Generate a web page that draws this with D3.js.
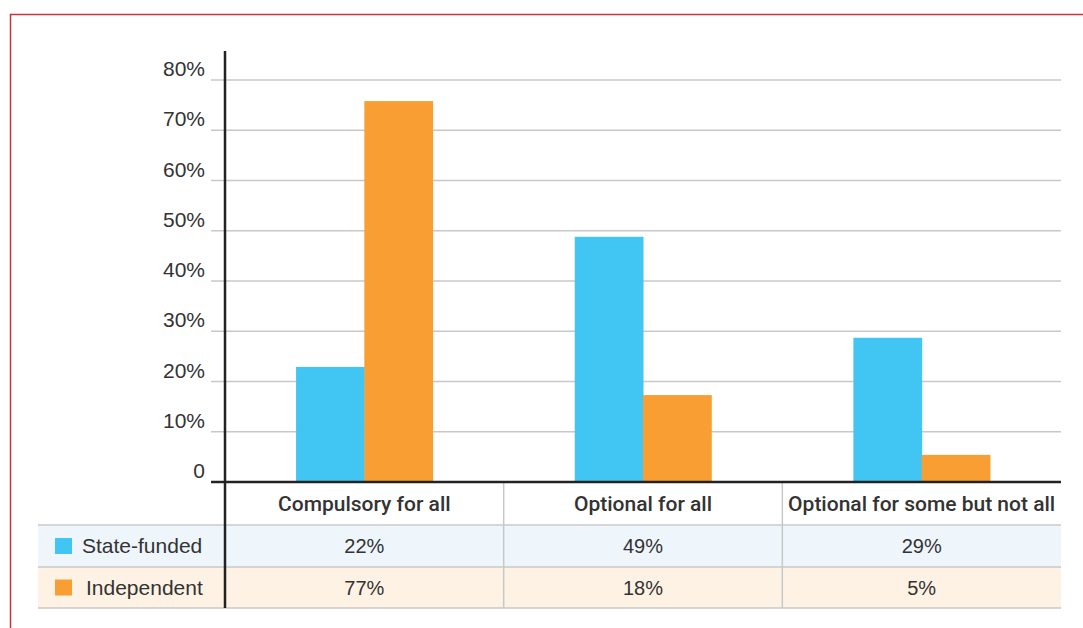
<!DOCTYPE html>
<html><head><meta charset="utf-8">
<script src="https://cdn.jsdelivr.net/npm/d3@7"></script>
<style>
body{margin:0;background:#fff;}
svg text{font-family:"Liberation Sans",Arial,sans-serif;fill:#333;}
</style></head>
<body><svg id="c" width="1083" height="628"></svg>
<script>
const categories = ["Compulsory for all", "Optional for all", "Optional for some but not all"];
const seriesNames = ["State-funded", "Independent"];
const stateFunded = [22.9, 48.8, 28.7];
const independent = [75.8, 17.3, 5.4];
const stateLabels = ["22%", "49%", "29%"];
const independentLabels = ["77%", "18%", "5%"];
const yTicks = [0, 10, 20, 30, 40, 50, 60, 70, 80];
const yTickLabels = ["0", "10%", "20%", "30%", "40%", "50%", "60%", "70%", "80%"];
const colors = ["#41c6f3", "#f89e33"];
const rowBg = ["#eef6fc", "#fdf2e4"];

const svg = d3.select("#c");
svg.append("rect").attr("x",10.5).attr("y",14.5).attr("width",1100).attr("height",700)
  .attr("fill","none").attr("stroke","#c9333d").attr("stroke-width",1.5);

const x0 = d3.scaleBand().domain(categories).range([225, 1061]);
const y = d3.scaleLinear().domain([0, 80]).range([482, 80]);
const x1 = d3.scaleBand().domain(seriesNames).range([0, x0.bandwidth()*0.49]);

svg.append("g").selectAll("line").data(yTicks.filter(d=>d>0)).join("line")
  .attr("x1",211).attr("x2",1061).attr("y1",d=>y(d)).attr("y2",d=>y(d))
  .attr("stroke","#c8c8c8").attr("stroke-width",1.5);
svg.append("g").selectAll("text").data(yTicks).join("text")
  .attr("x",205).attr("y",d=>y(d)-4).attr("text-anchor","end")
  .attr("font-size",21).attr("fill","#3a3a3a").text((d,i)=>yTickLabels[i]);

const rowTop = [525, 567];
const rowH = [42, 41];
rowTop.forEach((t,i)=>{
  svg.append("rect").attr("x",38).attr("y",t).attr("width",1061-38).attr("height",rowH[i]).attr("fill",rowBg[i]);
});
[525, 567, 608].forEach(yy=>{
  svg.append("line").attr("x1",38).attr("x2",1061).attr("y1",yy).attr("y2",yy).attr("stroke","#c8c8c8").attr("stroke-width",1.5);
});
categories.slice(1).forEach(c=>{
  svg.append("line").attr("x1",x0(c)).attr("x2",x0(c)).attr("y1",482).attr("y2",608).attr("stroke","#c8c8c8").attr("stroke-width",1.5);
});

const data = categories.map((c,i)=>({c, vals:[stateFunded[i], independent[i]]}));
const g = svg.append("g").selectAll("g").data(data).join("g")
  .attr("transform",d=>`translate(${x0(d.c)+x0.bandwidth()/2 - x1.range()[1]/2},0)`);
g.selectAll("rect").data(d=>d.vals.map((v,j)=>({v,s:seriesNames[j],j}))).join("rect")
  .attr("x",d=>x1(d.s)).attr("width",x1.bandwidth()+0.5)
  .attr("y",d=>y(d.v)).attr("height",d=>y(0)-y(d.v)).attr("fill",d=>colors[d.j]);

svg.append("line").attr("x1",211).attr("x2",1061).attr("y1",482).attr("y2",482).attr("stroke","#222").attr("stroke-width",2.5);
svg.append("line").attr("x1",225).attr("x2",225).attr("y1",51).attr("y2",608).attr("stroke","#222").attr("stroke-width",2.5);

svg.append("g").selectAll("text").data(categories).join("text")
  .attr("x",d=>x0(d)+x0.bandwidth()/2).attr("y",511).attr("text-anchor","middle")
  .attr("font-size",21).style("font-family","Roboto, 'Liberation Sans', sans-serif").style("font-weight",500).attr("fill","#222").text(d=>d);

[stateLabels, independentLabels].forEach((labels,i)=>{
  svg.append("g").selectAll("text").data(labels).join("text")
    .attr("x",(d,k)=>x0(categories[k])+x0.bandwidth()/2).attr("y",rowTop[i]+rowH[i]/2+7)
    .attr("text-anchor","middle").attr("font-size",20).attr("fill","#3a3a3a").text(d=>d);
  svg.append("rect").attr("x",55).attr("y",rowTop[i]+rowH[i]/2-8).attr("width",17).attr("height",16).attr("fill",colors[i]);
  svg.append("text").attr("x",i===0?82:86).attr("y",rowTop[i]+rowH[i]/2+7).attr("font-size",21).attr("fill","#3a3a3a").text(seriesNames[i]);
});
</script></body></html>
